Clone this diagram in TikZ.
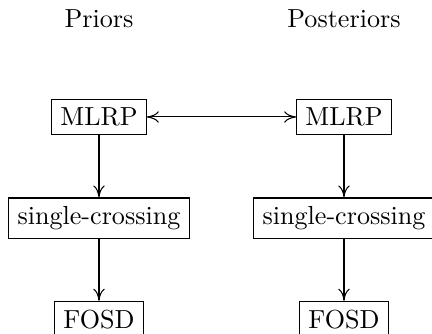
\documentclass[tikz,border=0pt]{standalone}
\usepackage{tikz}
\usetikzlibrary{arrows.meta}
\usetikzlibrary{shapes}

\begin{document}
\begin{tikzpicture}[
	>={To[length=4.6pt,width=4.4pt]},
	prop/.style={draw, rectangle},
	imp/.style={->}]
	\useasboundingbox (-1.333,-2.92) rectangle (4.485,1.575);
	%% column headings
	\node (priors) at (0,1.318) {Priors};
	\node (posts) at (3.3,1.318) {Posteriors};
	%% priors column
	\node[prop] (mlrpA) at (0,0) {MLRP};
	\node[prop] (scA) at (0,-1.367) {single-crossing};
	\node[prop] (fosdA) at (0,-2.727) {FOSD};
	%% posteriors column
	\node[prop] (mlrpB) at (3.3,0) {MLRP};
	\node[prop] (scB) at (3.3,-1.367) {single-crossing};
	\node[prop] (fosdB) at (3.3,-2.727) {FOSD};
	%% implications
	\draw[<->] (mlrpA) -- (mlrpB);
	\draw[imp] (mlrpA) -- (scA);
	\draw[imp] (scA) -- (fosdA);
	\draw[imp] (mlrpB) -- (scB);
	\draw[imp] (scB) -- (fosdB);
\end{tikzpicture}
\end{document}
